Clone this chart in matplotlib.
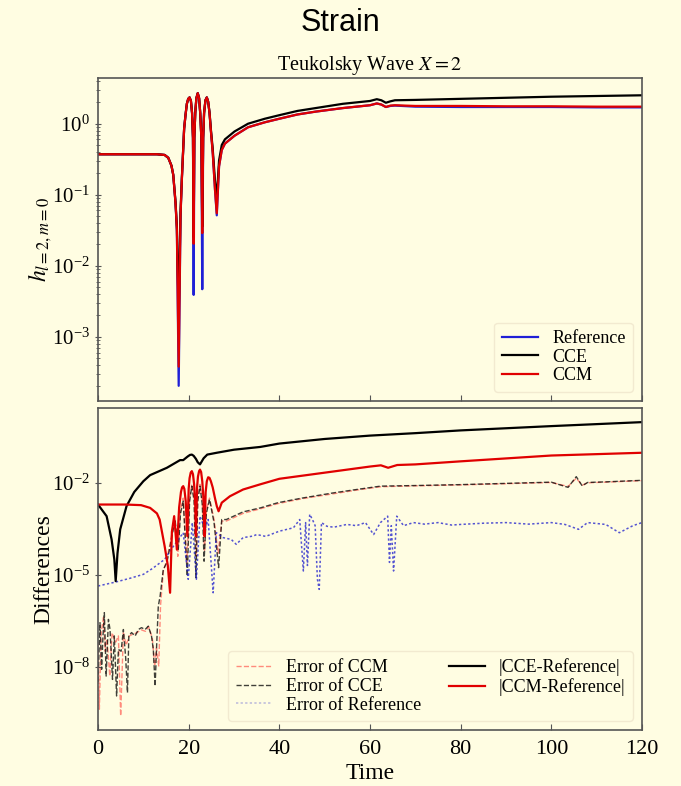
import numpy as np
import matplotlib
matplotlib.use('Agg')
import matplotlib.pyplot as plt
from matplotlib.ticker import LogLocator, NullLocator, NullFormatter

# ---- top panel: strain (values are log10 of h) ----
t_top = [0, 5, 10, 13, 14.7, 15.5, 16.2, 16.6, 17.1, 17.4, 17.8, 18.2, 18.5, 18.8, 19.0,
         19.3, 19.6, 19.9, 20.2, 20.5, 20.75, 20.95, 21.1, 21.25, 21.45, 21.7, 22.0, 22.3,
         22.55, 22.8, 23.0, 23.2, 23.4, 23.7, 24.0, 24.3, 24.6, 24.9, 25.3, 25.8, 26.2,
         26.7, 27.3, 28.0, 30.1, 33.1, 36.8, 40, 44, 48, 54, 60, 61.5, 62.5, 63.5, 64.5,
         65.5, 70, 80, 90, 100, 110, 120]
ccm_log = [-0.43, -0.43, -0.43, -0.43, -0.44, -0.48, -0.59, -0.72, -1.12, -1.49, -3.42,
           -1.3, -0.78, -0.35, -0.07, 0.12, 0.28, 0.35, 0.37, 0.32, 0.15, -0.2, -1.69,
           -0.2, 0.15, 0.36, 0.43, 0.36, 0.15, -0.2, -1.54, -0.2, 0.15, 0.33, 0.37, 0.31,
           0.15, -0.1, -0.4, -0.92, -1.26, -0.6, -0.37, -0.28, -0.17, -0.05, 0.02, 0.07,
           0.13, 0.17, 0.22, 0.26, 0.285, 0.27, 0.235, 0.255, 0.26, 0.25, 0.25, 0.245,
           0.245, 0.24, 0.24]
cce_log = [-0.43, -0.43, -0.43, -0.43, -0.44, -0.48, -0.59, -0.72, -1.1, -1.45, -2.7,
           -1.25, -0.76, -0.35, -0.07, 0.12, 0.28, 0.35, 0.37, 0.32, 0.15, -0.2, -1.6,
           -0.2, 0.15, 0.36, 0.43, 0.36, 0.15, -0.2, -1.45, -0.2, 0.15, 0.33, 0.37, 0.31,
           0.16, -0.08, -0.35, -0.8, -1.05, -0.52, -0.3, -0.22, -0.11, 0.0, 0.07, 0.12,
           0.18, 0.22, 0.28, 0.32, 0.345, 0.33, 0.295, 0.315, 0.33, 0.335, 0.35, 0.365,
           0.38, 0.39, 0.40]
ref_log = [-0.43, -0.43, -0.43, -0.43, -0.44, -0.48, -0.59, -0.72, -1.12, -1.49, -3.69,
           -1.3, -0.78, -0.35, -0.07, 0.12, 0.28, 0.35, 0.37, 0.32, 0.15, -0.2, -2.41,
           -0.2, 0.15, 0.36, 0.43, 0.36, 0.15, -0.2, -2.33, -0.2, 0.15, 0.33, 0.37, 0.31,
           0.15, -0.1, -0.4, -0.92, -1.29, -0.6, -0.37, -0.28, -0.17, -0.05, 0.02, 0.07,
           0.13, 0.17, 0.22, 0.26, 0.285, 0.27, 0.235, 0.25, 0.255, 0.24, 0.235, 0.235,
           0.235, 0.23, 0.23]

# ---- bottom panel: differences (log10) ----
t_cce_diff = [0, 1.9, 3.0, 3.6, 3.9, 4.3, 4.9, 6.3, 8, 10, 11.5, 15.2, 18.1, 18.8, 19.8,
              20.3, 20.7, 21.1, 21.6, 22.0, 22.5, 22.9, 23.3, 24.1, 26.2, 30, 35.8, 40,
              50, 60, 70, 80, 100, 120]
cce_diff_log = [-2.71, -3.09, -3.85, -4.5, -5.21, -4.3, -3.52, -2.76, -2.3, -1.95, -1.75,
                -1.51, -1.26, -1.26, -1.14, -1.09, -1.08, -1.12, -1.22, -1.33, -1.40,
                -1.3, -1.2, -1.08, -1.02, -0.92, -0.83, -0.72, -0.57, -0.46, -0.38,
                -0.29, -0.15, -0.02]

t_ccm_diff = [0, 6, 9.5, 11.5, 13.0, 13.6, 14.7, 15.4, 15.9, 16.3, 16.8, 17.4, 17.9, 18.3,
              18.55, 18.8, 19.05, 19.35, 19.7, 20.0, 20.2, 20.45, 20.7, 20.95, 21.2,
              21.45, 21.6, 21.85, 22.05, 22.3, 22.5, 22.75, 23.0, 23.3, 23.5, 23.75,
              24.0, 24.3, 24.6, 24.9, 25.3, 25.8, 26.2, 26.6, 27.3, 29.1, 32, 35.8, 40,
              50, 60, 62.4, 64, 66, 70, 80, 100, 120]
ccm_diff_log = [-2.71, -2.71, -2.73, -2.82, -3.0, -3.2, -4.07, -4.7, -5.59, -3.6, -3.09,
                -4.18, -2.8, -2.3, -2.15, -2.11, -2.2, -2.6, -3.74, -2.2, -1.85, -1.67,
                -1.62, -1.72, -2.05, -2.7, -3.74, -2.15, -1.8, -1.62, -1.57, -1.65,
                -1.95, -2.6, -3.74, -2.3, -1.95, -1.82, -1.84, -1.95, -2.15, -2.5, -2.76,
                -2.93, -2.65, -2.44, -2.22, -2.05, -1.87, -1.67, -1.47, -1.43, -1.51,
                -1.42, -1.40, -1.30, -1.11, -1.02]

t_err_cce = [0.0, 0.44, 0.8, 1.1, 1.4, 1.8, 2.3, 2.65, 3.2, 3.6, 4.1, 4.5, 5.1, 5.6, 6.1,
             6.5, 6.8, 7.4, 8.2, 8.9, 9.6, 10.4, 11.1, 11.8, 12.2, 12.6, 12.9, 13.3, 13.7,
             14.4, 15.2, 16.0, 16.5, 17.0, 17.7, 18.2, 18.8, 19.7, 20.2, 20.7, 21.2, 21.6,
             22.0, 22.5, 23.0, 23.4, 23.9, 24.6, 25.6, 26.6, 27.3, 28.3, 32, 35.8, 39.7,
             45, 51.9, 57, 62.3, 70, 80, 90, 100, 103.7, 105.5, 106.8, 108, 112, 120]
err_cce_log = [-8.5, -6.57, -8.09, -7.0, -6.24, -8.31, -6.46, -6.79, -8.42, -7.0, -8.96,
               -7.44, -7.5, -6.79, -7.7, -8.85, -7.0, -6.89, -7.0, -6.79, -6.73, -6.79,
               -6.68, -7.0, -7.44, -8.64, -7.44, -6.03, -5.70, -4.83, -4.6, -4.0, -3.6,
               -3.2, -4.2, -3.0, -2.6, -5.05, -2.6, -2.11, -2.6, -5.1, -2.6, -2.11, -2.7,
               -4.56, -3.0, -2.54, -3.3, -4.77, -3.2, -3.2, -2.95, -2.82, -2.65, -2.5,
               -2.33, -2.22, -2.11, -2.09, -2.06, -2.02, -1.98, -2.15, -1.80, -2.1, -1.99,
               -1.97, -1.92]

t_err_ccm = [0.0, 0.3, 0.7, 1.2, 1.6, 2.0, 2.6, 3.1, 3.9, 4.5, 5.0, 5.6, 6.2, 6.9, 7.6,
             8.5, 9.5, 10.5, 11.2, 12.0, 12.5, 12.9, 13.4, 13.8, 14.4, 15.2, 16.0, 16.5,
             17.0, 17.6, 18.2, 18.8, 19.6, 20.2, 20.7, 21.2, 21.7, 22.0, 22.5, 23.0, 23.5,
             23.9, 24.6, 25.6, 26.5, 27.3, 28.3, 32, 35.8, 39.7, 45, 51.9, 57, 62.3, 70,
             80, 90, 100, 103.7, 105.5, 106.8, 108, 112, 120]
err_ccm_log = [-7.2, -9.39, -6.9, -6.4, -7.5, -7.1, -8.31, -6.9, -7.2, -7.0, -9.61, -6.9,
               -7.3, -7.0, -6.95, -6.9, -6.8, -6.85, -6.7, -7.1, -7.98, -7.4, -7.98, -6.0,
               -4.9, -4.5, -3.9, -3.5, -3.25, -4.4, -2.9, -2.5, -4.6, -2.5, -2.05, -2.5,
               -4.4, -2.5, -2.05, -2.6, -4.2, -2.9, -2.5, -3.2, -4.3, -3.25, -3.25, -3.0,
               -2.85, -2.68, -2.52, -2.36, -2.24, -2.13, -2.1, -2.07, -2.03, -1.99, -2.12,
               -1.85, -2.08, -2.0, -1.98, -1.93]

t_err_ref = [0, 3.9, 7, 10, 12, 14.7, 16.5, 18.0, 18.8, 19.9, 20.8, 21.7, 22.5, 23.6, 24.3,
             25.4, 26.1, 27.6, 29.4, 30.5, 32, 34.2, 35, 37, 40, 43.1, 44.5, 45.3, 45.8,
             46.2, 46.7, 47.3, 47.9, 48.4, 48.8, 49.3, 50.5, 52, 54.9, 57, 59, 60.8, 62.3,
             63.9, 64.3, 64.7, 65.2, 65.9, 67.4, 69.6, 72, 75, 78, 80, 85, 90, 95, 100,
             103, 106, 108, 112, 115, 118, 120]
err_ref_log = [-5.37, -5.24, -5.12, -4.99, -4.8, -4.5, -4.1, -3.8, -3.63, -5.15, -3.3,
               -5.15, -3.09, -3.52, -3.2, -5.59, -3.63, -3.79, -3.85, -4.01, -3.79, -3.74,
               -3.69, -3.75, -3.58, -3.47, -3.2, -4.88, -3.3, -4.7, -3.03, -3.2, -3.4,
               -5.15, -5.48, -3.3, -3.42, -3.45, -3.36, -3.4, -3.3, -3.69, -3.3, -3.09,
               -4.6, -3.4, -4.88, -3.09, -3.4, -3.3, -3.35, -3.3, -3.38, -3.36, -3.32,
               -3.3, -3.35, -3.3, -3.36, -3.52, -3.3, -3.36, -3.63, -3.4, -3.3]

bg = '#FFFDE2'
spine_c = '#555555'
plt.rcParams['font.family'] = ['Liberation Serif', 'DejaVu Serif']
plt.rcParams['mathtext.fontset'] = 'stix'

fig = plt.figure(figsize=(6.81, 7.86), dpi=100, facecolor=bg)
W, H = 681.0, 786.0
ax1 = fig.add_axes([98 / W, 1 - 400.7 / H, 544 / W, 322.7 / H], facecolor=bg)
ax2 = fig.add_axes([98 / W, 1 - 730 / H, 544 / W, 321.7 / H], facecolor=bg)

fig.suptitle('Strain', family='Liberation Sans', fontsize=22, y=1 - 23 / H, va='center')

# top panel
ax1.plot(t_top, 10 ** np.array(ref_log), color='#1f1fd6', lw=1.6, label='Reference')
ax1.plot(t_top, 10 ** np.array(cce_log), color='black', lw=1.6, label='CCE')
ax1.plot(t_top, 10 ** np.array(ccm_log), color='#e00000', lw=1.6, label='CCM')
ax1.set_yscale('log')
ax1.set_ylim(1.26e-4, 4.4)
ax1.set_xlim(0, 120)
ax1.set_yticks([1e-3, 1e-2, 1e-1, 1])
ax1.yaxis.set_minor_locator(LogLocator(base=10, subs=np.arange(2, 10), numticks=20))
ax1.yaxis.set_minor_formatter(NullFormatter())
ax1.set_xticks([0, 20, 40, 60, 80, 100, 120])
ax1.tick_params(axis='x', labelbottom=False)
ax1.set_title('Teukolsky Wave $X=2$', fontsize=14.5)
ax1.set_ylabel('$h_{l=2,m=0}$', fontsize=17)
ax1.yaxis.set_label_coords(-0.08, 0.5)
leg1 = ax1.legend(loc='lower right', fontsize=13, labelspacing=0.1, framealpha=1,
                  facecolor=bg, edgecolor='#f2ead0', fancybox=True)

# bottom panel
ax2.plot(t_err_ccm, 10 ** np.array(err_ccm_log), color='red', ls='--', lw=1.0, alpha=0.45,
         label='Error of CCM')
ax2.plot(t_err_cce, 10 ** np.array(err_cce_log), color='black', ls='--', lw=1.0, alpha=0.75,
         label='Error of CCE')
ax2.plot(t_err_ref, 10 ** np.array(err_ref_log), color='#1a1acc', ls=(0, (1.5, 1.5)), lw=1.1,
         alpha=0.75, label='Error of Reference')
ax2.plot(t_cce_diff, 10 ** np.array(cce_diff_log), color='black', lw=1.6,
         label='|CCE-Reference|')
ax2.plot(t_ccm_diff, 10 ** np.array(ccm_diff_log), color='#e00000', lw=1.6,
         label='|CCM-Reference|')
ax2.set_yscale('log')
ax2.set_ylim(8.5e-11, 2.7)
ax2.set_xlim(0, 120)
ax2.set_yticks([1e-8, 1e-5, 1e-2])
ax2.yaxis.set_minor_locator(NullLocator())
ax2.set_xticks([0, 20, 40, 60, 80, 100, 120])
ax2.set_xlabel('Time', fontsize=17, labelpad=3)
ax2.set_ylabel('Differences', fontsize=17)
ax2.yaxis.set_label_coords(-0.08, 0.5)
leg2 = ax2.legend(loc='lower right', ncol=2, fontsize=13, labelspacing=0.1,
                  columnspacing=1.5, framealpha=1, facecolor=bg, edgecolor='#f2ead0')
leg2.get_lines()[2].set_alpha(0.3)

for ax in (ax1, ax2):
    for side in ('top', 'right', 'left', 'bottom'):
        ax.spines[side].set_color(spine_c)
        ax.spines[side].set_linewidth(1.2)
    ax.tick_params(axis='y', which='major', direction='inout', length=5, labelsize=15,
                   color=spine_c)
    ax.tick_params(axis='y', which='minor', direction='inout', length=3, color=spine_c)
    ax.tick_params(axis='x', direction='in', length=4, labelsize=16, color=spine_c, pad=7)

fig.savefig('out.png', dpi=100, facecolor=bg)
